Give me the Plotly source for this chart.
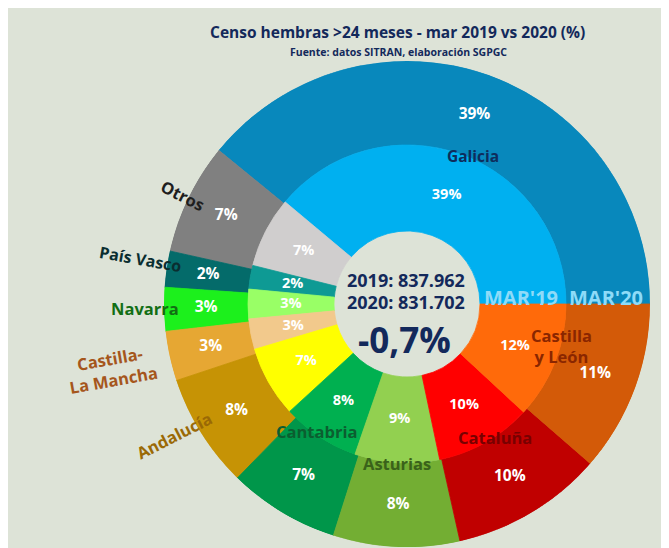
import numpy as np
import plotly.graph_objects as go

W, H = 669, 548

regions = ["Galicia", "Otros", "País Vasco", "Navarra", "Castilla-La Mancha",
           "Andalucía", "Cantabria", "Asturias", "Cataluña", "Castilla y León"]
share_2019 = [38.9, 7.2, 2.4, 3.0, 3.1, 7.2, 7.9, 8.6, 9.8, 11.9]
share_2020 = [39.1, 7.4, 2.4, 2.9, 3.3, 7.6, 7.4, 8.4, 10.1, 11.4]
colors_2019 = ["#00B0F0", "#D0CECE", "#0E9A94", "#99FF66", "#F2C98C",
               "#FFFF00", "#00B050", "#92D050", "#FF0000", "#FF6A0A"]
colors_2020 = ["#0888BC", "#808080", "#046B6A", "#1CF01C", "#E6A733",
               "#C69305", "#00964A", "#73AE33", "#C00000", "#D35A08"]
total_2019 = "837.962"
total_2020 = "831.702"
change = "-0,7%"

BG = "#DDE3D7"
NAVY = "#13295B"
FONT = "Open Sans"

CX, CY = 399, 296
R_OUT, R_MID, R_IN = 243, 159, 73


def ring(values):
    v = np.asarray(values, dtype=float)
    widths = v / v.sum() * 360.0
    starts = np.concatenate([[0.0], np.cumsum(widths)[:-1]])
    mids = starts + widths / 2
    pct = [f"{round(x / v.sum() * 100)}%" for x in v]
    return widths, mids, pct


fig = go.Figure()
for values, colors, r0, r1, fsize in [
    (share_2020, colors_2020, R_MID, R_OUT, 15.5),
    (share_2019, colors_2019, R_IN, R_MID, 14.5),
]:
    widths, mids, pct = ring(values)
    fig.add_trace(go.Barpolar(
        r=[r1 - r0] * len(values), base=r0, theta=mids, width=widths,
        marker=dict(color=colors, line=dict(color=colors, width=0.8)),
        hoverinfo="skip", showlegend=False))
    fig.add_trace(go.Scatterpolar(
        r=[(r0 + r1) / 2] * len(values), theta=mids, text=pct, mode="text",
        textfont=dict(family=FONT, size=fsize, color="white", weight="bold"),
        hoverinfo="skip", showlegend=False))

fig.update_layout(
    polar=dict(
        domain=dict(x=[(CX - R_OUT) / W, (CX + R_OUT) / W],
                    y=[1 - (CY + R_OUT) / H, 1 - (CY - R_OUT) / H]),
        bgcolor="rgba(0,0,0,0)",
        radialaxis=dict(visible=False, range=[0, R_OUT]),
        angularaxis=dict(visible=False, direction="counterclockwise", rotation=0),
        bargap=0,
    )
)


def ann(text, x, y, color, size=17, angle=0, weight="bold", family=FONT):
    return dict(text=text, x=x / W, y=1 - y / H, xref="paper", yref="paper",
                showarrow=False, textangle=angle,
                font=dict(family=family, size=size, color=color, weight=weight),
                xanchor="center", yanchor="middle")


annotations = [
    ann("Censo hembras >24 meses - mar 2019 vs 2020 (%)", 389, 24, NAVY, 15.5),
    ann("Fuente: datos SITRAN, elaboración SGPGC", 390, 44, NAVY, 10.5),
    ann("Galicia", 465, 148, "#0E2D5C", 15.5),
    ann("Otros", 175, 187, "#1E1E1E", 16.5, angle=27),
    ann("País Vasco", 132, 251, "#0A2E30", 16, angle=10),
    ann("Navarra", 137, 300, "#126E14", 16.5),
    ann("Castilla-<br>La Mancha", 104, 361, "#A5561C", 16.5, angle=-10),
    ann("Andalucía", 166, 427, "#9A6905", 16.5, angle=-27),
    ann("Cantabria", 308, 423, "#0B5E30", 16.5),
    ann("Asturias", 389, 455, "#3A621A", 16.5),
    ann("Cataluña", 487, 429, "#780000", 16.5),
    ann("Castilla<br>y León", 553, 338, "#8A2600", 16.5),
    ann("MAR'19", 513, 289, "#8EDBF8", 20),
    ann("MAR'20", 598, 289, "#8EDBF8", 20),
    ann("2019: " + total_2019, 398, 272, NAVY, 18),
    ann("2020: " + total_2020, 398, 294, NAVY, 18),
    ann(change, 396, 331, NAVY, 35),
]

fig.update_layout(
    width=W, height=H, paper_bgcolor=BG, plot_bgcolor=BG,
    margin=dict(l=0, r=0, t=0, b=0),
    annotations=annotations, showlegend=False,
)

fig.write_html("out.html")
